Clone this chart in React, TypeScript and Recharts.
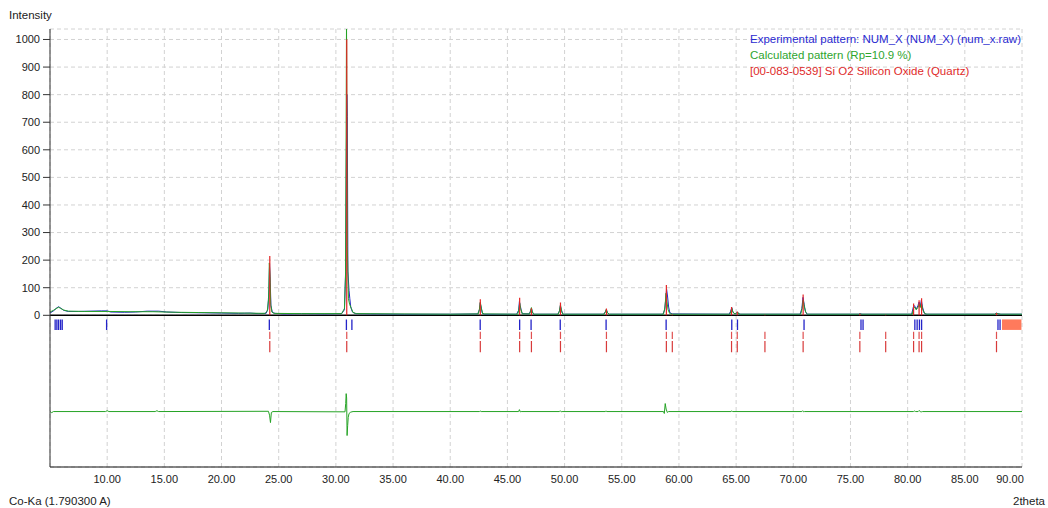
import { ComposedChart, Line, XAxis, YAxis, CartesianGrid, ReferenceLine, ReferenceArea } from 'recharts';

// 2theta / intensity pairs
const experimental: [number, number][] = [
  [5.0, 8], [5.3, 16], [5.6, 27], [5.75, 31], [5.9, 27], [6.2, 18], [6.6, 14], [7.5, 14], [8.5, 15], [9.5, 16],
  [10.0, 16], [10.3, 12], [11.5, 11], [12.5, 12], [13.5, 15], [14.5, 15], [15.2, 12], [16.5, 10], [18.5, 9],
  [20.0, 8], [21.5, 7], [22.5, 8], [23.2, 6], [23.9, 7], [24.05, 22], [24.15, 95], [24.2, 188], [24.26, 120],
  [24.32, 35], [24.45, 10], [24.7, 7], [25.5, 5], [27, 6], [29, 5], [30.5, 6], [30.75, 20], [30.85, 160],
  [30.92, 600], [30.96, 800], [31.0, 720], [31.05, 160], [31.15, 90], [31.22, 60], [31.3, 30], [31.45, 12],
  [31.7, 6], [33, 5], [36, 4], [40, 4], [42.4, 5], [42.55, 20], [42.62, 45], [42.7, 30], [42.8, 8], [43.0, 4],
  [45.8, 4], [45.98, 18], [46.05, 50], [46.12, 35], [46.2, 20], [46.3, 6], [46.9, 5], [47.02, 15], [47.1, 25],
  [47.18, 12], [47.3, 4], [49.4, 4], [49.55, 15], [49.63, 35], [49.72, 20], [49.85, 4], [53.4, 4], [53.55, 12],
  [53.65, 20], [53.75, 10], [53.9, 4], [58.6, 4], [58.75, 20], [58.85, 60], [58.92, 95], [59.0, 70], [59.1, 30],
  [59.2, 10], [59.4, 5], [64.4, 4], [64.52, 15], [64.62, 28], [64.72, 12], [64.9, 5], [65.05, 8], [65.12, 12],
  [65.2, 6], [65.4, 4], [70.6, 4], [70.75, 25], [70.85, 65], [70.95, 40], [71.05, 15], [71.2, 4], [75.7, 4],
  [75.85, 6], [76.0, 4], [80.35, 4], [80.5, 30], [80.6, 35], [80.75, 22], [80.9, 35], [81.0, 48], [81.1, 30],
  [81.2, 55], [81.3, 30], [81.45, 8], [81.6, 4], [87.6, 4], [87.75, 8], [87.9, 6], [88.1, 4], [90, 4],
];

const calculated: [number, number][] = [
  [5.0, 12], [5.3, 18], [5.6, 26], [5.75, 29], [5.9, 26], [6.2, 19], [6.6, 15], [8, 14], [10, 14], [12, 13],
  [14, 13], [16, 11], [18, 10], [20, 9], [22, 8], [23.8, 7], [24.0, 15], [24.12, 60], [24.18, 190], [24.24, 140],
  [24.3, 40], [24.4, 12], [24.6, 7], [27, 6], [30.5, 6], [30.75, 25], [30.85, 150], [30.93, 1060], [31.0, 250],
  [31.1, 60], [31.2, 40], [31.35, 25], [31.5, 10], [31.8, 6], [35, 5], [40, 4], [42.45, 5], [42.55, 22],
  [42.63, 48], [42.72, 25], [42.85, 5], [45.9, 4], [46.0, 20], [46.07, 45], [46.15, 25], [46.3, 5], [46.95, 5],
  [47.04, 18], [47.1, 28], [47.18, 12], [47.3, 4], [49.45, 4], [49.56, 18], [49.64, 38], [49.73, 15], [49.85, 4],
  [53.45, 4], [53.57, 12], [53.65, 22], [53.75, 8], [53.9, 4], [58.65, 4], [58.78, 30], [58.87, 80], [58.95, 50],
  [59.05, 20], [59.2, 6], [59.4, 4], [64.45, 4], [64.55, 15], [64.63, 25], [64.73, 10], [64.9, 5], [65.05, 8],
  [65.13, 12], [65.22, 5], [65.4, 4], [70.65, 4], [70.77, 25], [70.87, 55], [70.97, 30], [71.1, 10], [71.25, 4],
  [75.7, 4], [75.85, 5], [76.0, 4], [80.4, 4], [80.52, 25], [80.62, 30], [80.75, 20], [80.92, 30], [81.0, 40],
  [81.1, 28], [81.2, 45], [81.32, 20], [81.5, 6], [81.7, 4], [87.6, 4], [87.78, 7], [87.95, 5], [88.2, 4], [90, 4],
];

// difference curve, already shifted below the pattern
const difference: [number, number][] = [
  [5, -349], [5.15, -353], [5.3, -349], [9.85, -349], [10.0, -346], [10.15, -349], [14.2, -349], [14.35, -346],
  [14.5, -349], [24.1, -348], [24.2, -362], [24.28, -389], [24.36, -352], [24.5, -349], [30.8, -350],
  [30.86, -320], [30.9, -284], [30.94, -300], [30.98, -436], [31.03, -400], [31.08, -370], [31.15, -356],
  [31.3, -351], [31.5, -349], [42.55, -349], [42.62, -347], [42.7, -349], [45.98, -349], [46.05, -342],
  [46.12, -350], [46.2, -349], [49.55, -349], [49.62, -346], [49.7, -350], [49.78, -349], [53.55, -349],
  [53.62, -347], [53.7, -349], [58.65, -349], [58.72, -356], [58.8, -320], [58.88, -340], [58.98, -352],
  [59.1, -349], [64.55, -349], [64.62, -347], [64.7, -349], [70.75, -349], [70.82, -346], [70.9, -350],
  [70.98, -349], [80.5, -349], [80.6, -347], [80.7, -349], [80.92, -349], [81.0, -345], [81.1, -349],
  [81.2, -350], [81.3, -349], [90, -349],
];

// reference lines of [00-083-0539] quartz
const quartzPos = [24.22, 30.95, 42.63, 46.07, 47.1, 49.64, 53.66, 58.9, 59.42, 64.6, 65.1, 67.52, 70.86, 75.82, 78.08, 80.52, 81.0, 81.22, 87.77];
const quartzInt = [215, 1000, 58, 64, 26, 46, 25, 110, 3, 30, 14, 2, 75, 6, 2, 43, 55, 62, 8];

// peak search markers
const peakPos = [5.45, 5.6, 5.75, 5.92, 6.07, 9.95, 24.18, 30.92, 31.4, 42.62, 46.07, 47.07, 49.62, 53.63, 58.88,
  64.62, 65.12, 70.94, 75.92, 76.1, 80.63, 80.83, 81.03, 81.22, 87.9, 88.08];

const xTicks = [10, 15, 20, 25, 30, 35, 40, 45, 50, 55, 60, 65, 70, 75, 80, 85, 90];
const yTicks = [0, 100, 200, 300, 400, 500, 600, 700, 800, 900, 1000];

const toRows = (pts: [number, number][]) => pts.map(([x, y]) => ({ x, y }));
const segments = (xs: number[], y1: number, y2: number) =>
  xs.flatMap((x) => [{ x, y: y1 }, { x, y: y2 }, { x, y: null }]);
const sticks = quartzPos.flatMap((x, i) => [{ x, y: 0 }, { x, y: quartzInt[i] }, { x, y: null }]);

const font = '"Liberation Sans", Arial, sans-serif';
const BLUE = '#2424c8';
const GREEN = '#25a325';
const RED = '#e42626';

const XTick = (props: any) => {
  const { x, y, payload } = props;
  const last = payload.value === 90;
  return (
    <text x={last ? x - 12 : x} y={y} dy="0.71em" textAnchor="middle" fontSize={11} fill="#222" fontFamily={font}>
      {payload.value.toFixed(2)}
    </text>
  );
};

export default function App() {
  return (
    <div style={{ position: 'relative', width: 1048, height: 508, fontFamily: font, fontSize: 11.5, color: '#222', background: '#fff' }}>
      <style>{'body{margin:0}'}</style>
      <ComposedChart width={1048} height={508} margin={{ top: 29, right: 26, bottom: 21, left: 0 }}>
        <CartesianGrid stroke="#d2d2d2" strokeDasharray="4 3" />
        <XAxis
          type="number"
          dataKey="x"
          domain={[5, 90]}
          ticks={xTicks}
          allowDataOverflow
          height={20}
          tickLine={false}
          tick={<XTick />}
          axisLine={{ stroke: '#111' }}
        />
        <XAxis xAxisId="top" orientation="top" type="number" domain={[5, 90]} height={0} tick={false} tickLine={false} axisLine={{ stroke: '#666' }} />
        <YAxis
          type="number"
          domain={[-550, 1038]}
          ticks={yTicks}
          allowDataOverflow
          width={50}
          tickSize={7}
          tickMargin={3}
          interval={0}
          tick={{ fontSize: 11, fill: '#222', fontFamily: font }}
          tickLine={{ stroke: '#333' }}
          axisLine={{ stroke: '#333' }}
        />
        <YAxis yAxisId="right" orientation="right" width={0} tick={false} tickLine={false} axisLine={{ stroke: '#111' }} />
        <ReferenceLine y={0} stroke="#000" strokeWidth={1.5} />
        <ReferenceArea x1={88.25} x2={89.95} y1={-53} y2={-15} fill="#ff7a5c" fillOpacity={1} stroke="none" />
        <Line data={segments(peakPos, -15, -53)} dataKey="y" stroke={BLUE} strokeWidth={1.3} dot={false} isAnimationActive={false} />
        <Line data={segments(quartzPos, -60, -86)} dataKey="y" stroke="#e05050" strokeWidth={1.2} dot={false} isAnimationActive={false} />
        <Line data={segments(quartzPos, -93, -134)} dataKey="y" stroke="#d83a3a" strokeWidth={1.2} dot={false} isAnimationActive={false} />
        <Line data={toRows(experimental)} dataKey="y" stroke={BLUE} strokeWidth={1} dot={false} isAnimationActive={false} />
        <Line data={toRows(calculated)} dataKey="y" stroke={GREEN} strokeWidth={1} dot={false} isAnimationActive={false} />
        <Line data={sticks} dataKey="y" stroke={RED} strokeWidth={1.2} dot={false} isAnimationActive={false} />
        <Line data={toRows(difference)} dataKey="y" stroke={GREEN} strokeWidth={1} dot={false} isAnimationActive={false} />
      </ComposedChart>
      <div style={{ position: 'absolute', left: 9, top: 8, lineHeight: '14px' }}>Intensity</div>
      <div style={{ position: 'absolute', left: 750, top: 31, lineHeight: '16px' }}>
        <div style={{ color: '#2a2ad0' }}>Experimental pattern: NUM_X (NUM_X) (num_x.raw)</div>
        <div style={{ color: '#2ea52e' }}>Calculated pattern (Rp=10.9 %)</div>
        <div style={{ color: '#e02a2a' }}>[00-083-0539] Si O2 Silicon Oxide (Quartz)</div>
      </div>
      <div style={{ position: 'absolute', left: 9, top: 493, lineHeight: '16px' }}>Co-Ka (1.790300 A)</div>
      <div style={{ position: 'absolute', right: 3, top: 493, lineHeight: '16px' }}>2theta</div>
    </div>
  );
}
